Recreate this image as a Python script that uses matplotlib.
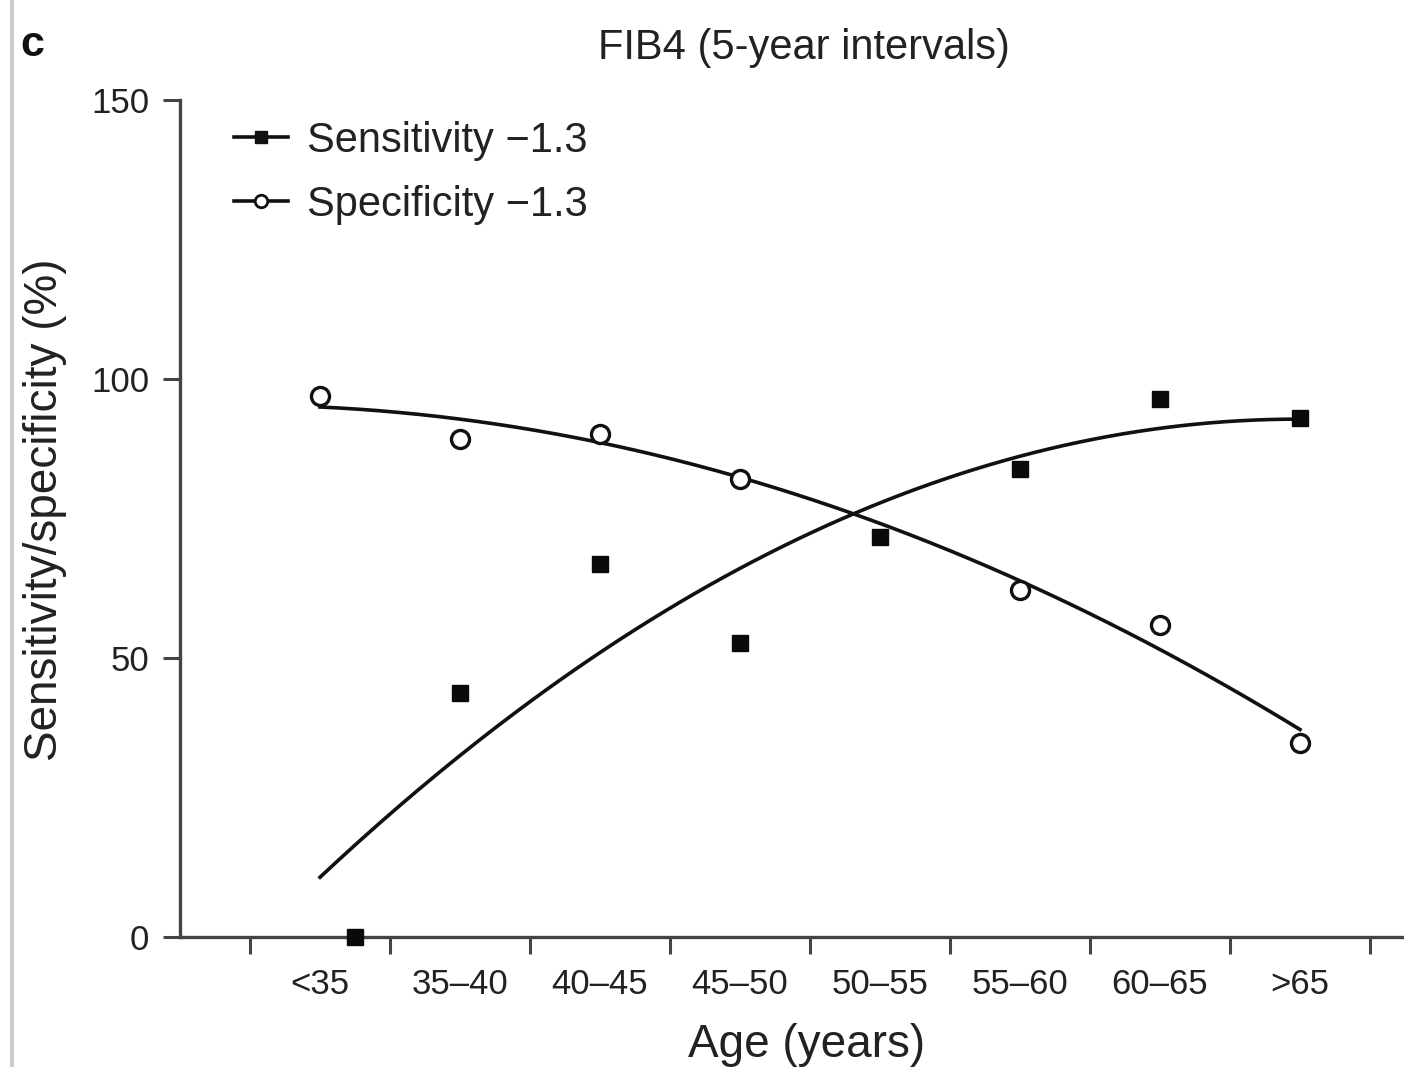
import numpy as np
import matplotlib
matplotlib.use("Agg")
import matplotlib.pyplot as plt
from matplotlib.lines import Line2D

# Age groups (5-year intervals)
age_groups = ["<35", "35\u201340", "40\u201345", "45\u201350", "50\u201355", "55\u201360", "60\u201365", ">65"]

# Sensitivity / specificity at FIB4 cut-off 1.3 (%)
sens_x = [0.25, 1, 2, 3, 4, 5, 6, 7]
sensitivity = [0.0, 43.7, 66.8, 52.7, 71.6, 83.9, 96.5, 93.0]
spec_x = [0, 1, 2, 3, 5, 6, 7]
specificity = [97.0, 89.2, 90.1, 82.1, 62.2, 55.9, 34.8]

TEXT = "#222222"
AXCOL = "#444444"

plt.rcParams['font.family'] = ['Liberation Sans', 'DejaVu Sans']
plt.rcParams['text.color'] = TEXT

fig = plt.figure(figsize=(14.04, 10.67), dpi=100)
W, H = 1404, 1067
# axes deliberately runs past the right edge (figure is cropped there)
ax = fig.add_axes([180 / W, 1 - 937 / H, 1260 / W, 837 / H])

# second-order trend lines fitted to the points
cats = np.arange(len(age_groups))
xs = np.linspace(0, 7, 200)
sens_fit = np.polyfit(cats, sensitivity, 2)
spec_fit = np.polyfit(spec_x, specificity, 2)
ax.plot(xs, np.polyval(sens_fit, xs), color="#111111", lw=2.6, zorder=2)
ax.plot(xs, np.polyval(spec_fit, xs), color="#111111", lw=2.6, zorder=2)

ax.plot(sens_x, sensitivity, ls="none", marker="s", ms=12, color="#0a0a0a",
        clip_on=False, zorder=3)
ax.plot(spec_x, specificity, ls="none", marker="o", ms=13, mfc="white",
        mec="#111111", mew=2.4, clip_on=False, zorder=3)

ax.set_xlim(-1, 8)
ax.set_ylim(0, 150)
ax.set_yticks([0, 50, 100, 150])
ax.set_xticks(cats)
ax.set_xticklabels(age_groups)
ax.set_xticks(np.arange(-0.5, 8.0, 1.0), minor=True)

for s in ["top", "right"]:
    ax.spines[s].set_visible(False)
for s in ["left", "bottom"]:
    ax.spines[s].set_color(AXCOL)
    ax.spines[s].set_linewidth(2.4)

ax.tick_params(axis="x", which="major", length=0, pad=22, labelsize=25, labelcolor=TEXT)
ax.tick_params(axis="x", which="minor", length=12, width=2.2, color=AXCOL)
ax.tick_params(axis="y", length=12, width=2.2, color=AXCOL, pad=10, labelsize=25, labelcolor=TEXT)

ax.set_xlabel("Age (years)", fontsize=33, color=TEXT)
ax.xaxis.set_label_coords(0.497, -0.103)
ax.set_ylabel("Sensitivity/specificity (%)", fontsize=33, color=TEXT)
ax.yaxis.set_label_coords(-0.09, 0.51)

fig.text(804 / W, 1 - 48 / H, "FIB4 (5-year intervals)", fontsize=30,
         ha="center", va="center", color=TEXT)
fig.text(20 / W, 1 - 45 / H, "c", fontsize=31, fontweight="bold",
         ha="left", va="center", color="#111111")

handles = [
    Line2D([], [], color="#111111", lw=2.6, marker="s", ms=8),
    Line2D([], [], color="#111111", lw=2.6, marker="o", ms=9, mfc="white", mew=2),
]
ax.legend(handles, ["Sensitivity \u22121.3", "Specificity \u22121.3"],
          loc="upper left", bbox_to_anchor=(234 / W, 1 - 121 / H),
          bbox_transform=fig.transFigure, frameon=False, fontsize=30,
          handlelength=1.3, handletextpad=0.45, labelspacing=0.57,
          borderpad=0, borderaxespad=0)

# light grey page edge on the left
fig.add_artist(Line2D([12 / W, 12 / W], [0, 1], color="#cccccc", lw=3,
                      transform=fig.transFigure))

fig.savefig("out.png", dpi=100)
